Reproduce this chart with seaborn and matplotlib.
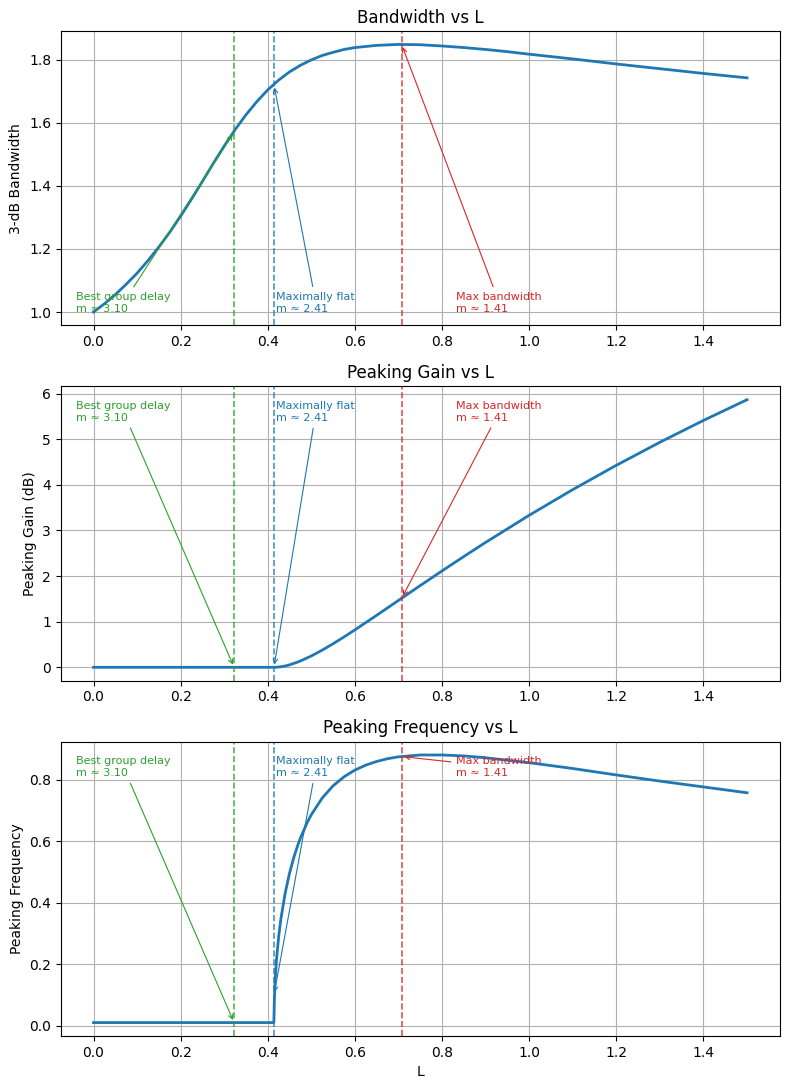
import numpy as np
import matplotlib
matplotlib.use('Agg')
import matplotlib.pyplot as plt
import seaborn as sns

# bandwidth curve
L_bw = [0.0, 0.025, 0.05, 0.075, 0.10, 0.125, 0.15, 0.175, 0.20, 0.225, 0.25, 0.275,
        0.30, 0.325, 0.35, 0.375, 0.40, 0.425, 0.45, 0.475, 0.50, 0.525, 0.55, 0.575,
        0.60, 0.65, 0.70, 0.75, 0.80, 0.85, 0.90, 0.95, 1.0, 1.1, 1.2, 1.3, 1.4, 1.5]
bandwidth = [1.000, 1.026, 1.055, 1.088, 1.123, 1.163, 1.206, 1.253, 1.304, 1.358,
             1.414, 1.471, 1.526, 1.578, 1.625, 1.667, 1.704, 1.735, 1.761, 1.782,
             1.799, 1.813, 1.823, 1.832, 1.838, 1.845, 1.848, 1.847, 1.843, 1.838,
             1.832, 1.825, 1.817, 1.802, 1.786, 1.771, 1.756, 1.742]

# peaking gain (dB)
L_pk = [0.0, 0.1, 0.2, 0.3, 0.4, 0.414, 0.42, 0.43, 0.44, 0.45, 0.47, 0.475, 0.50,
        0.525, 0.55, 0.575, 0.60, 0.65, 0.70, 0.75, 0.80, 0.85, 0.90, 1.0, 1.1, 1.2,
        1.3, 1.4, 1.5]
peak_gain = [0.0, 0.0, 0.0, 0.0, 0.0, 0.0, 0.002, 0.012, 0.029, 0.054, 0.120, 0.139,
             0.249, 0.377, 0.517, 0.666, 0.821, 1.141, 1.467, 1.793, 2.114, 2.430,
             2.739, 3.334, 3.897, 4.430, 4.935, 5.414, 5.868]

# peaking frequency
L_pf = [0.0, 0.1, 0.2, 0.3, 0.4, 0.414, 0.415, 0.417, 0.42, 0.425, 0.43, 0.44, 0.45,
        0.46, 0.47, 0.475, 0.49, 0.50, 0.525, 0.55, 0.575, 0.60, 0.625, 0.65, 0.675,
        0.70, 0.75, 0.80, 0.85, 0.90, 1.0, 1.1, 1.2, 1.3, 1.4, 1.5]
peak_freq = [0.01, 0.01, 0.01, 0.01, 0.01, 0.01, 0.080, 0.150, 0.215, 0.290, 0.347,
             0.432, 0.497, 0.549, 0.592, 0.611, 0.660, 0.687, 0.741, 0.781, 0.810,
             0.832, 0.848, 0.860, 0.869, 0.875, 0.881, 0.881, 0.878, 0.872, 0.856,
             0.837, 0.816, 0.796, 0.777, 0.758]

# design points
mark_names = ['Best group delay', 'Maximally flat', 'Max bandwidth']
mark_m = ['3.10', '2.41', '1.41']
mark_L = [0.3226, 0.4142, 0.7071]
mark_colors = ['tab:green', 'tab:blue', 'tab:red']
text_x = [-0.04, 0.42, 0.833]
mark_bw = [1.57, 1.72, 1.848]
mark_gain = [0.0, 0.0, 1.51]
mark_freq = [0.01, 0.10, 0.876]

fig, axes = plt.subplots(3, 1, figsize=(7.9, 10.89))

panels = [
    (L_bw, bandwidth, mark_bw, 'Bandwidth vs L', '3-dB Bandwidth', 0.04, 'bottom'),
    (L_pk, peak_gain, mark_gain, 'Peaking Gain vs L', 'Peaking Gain (dB)', 0.95, 'top'),
    (L_pf, peak_freq, mark_freq, 'Peaking Frequency vs L', 'Peaking Frequency', 0.95, 'top'),
]

for ax, (x, y, targets, title, ylabel, ty, va) in zip(axes, panels):
    sns.lineplot(x=x, y=y, ax=ax, color='tab:blue', linewidth=2)
    for name, m, lv, c, tx, tgt in zip(mark_names, mark_m, mark_L, mark_colors, text_x, targets):
        ax.axvline(lv, color=c, linestyle='--', linewidth=1.2, alpha=0.8)
        ax.annotate(f'{name}\nm ≈ {m}', xy=(lv, tgt), xytext=(tx, ty),
                    textcoords=('data', 'axes fraction'), va=va, ha='left',
                    fontsize=8, color=c,
                    arrowprops=dict(arrowstyle='->', color=c, lw=0.8))
    ax.set_title(title, fontsize=12)
    ax.set_ylabel(ylabel)
    ax.set_xlabel('')
    ax.grid(True)

axes[2].set_xlabel('L')

fig.subplots_adjust(left=0.077, right=0.987, top=0.9715, bottom=0.0487, hspace=0.207)
fig.savefig('out.png', dpi=100, facecolor='white')
